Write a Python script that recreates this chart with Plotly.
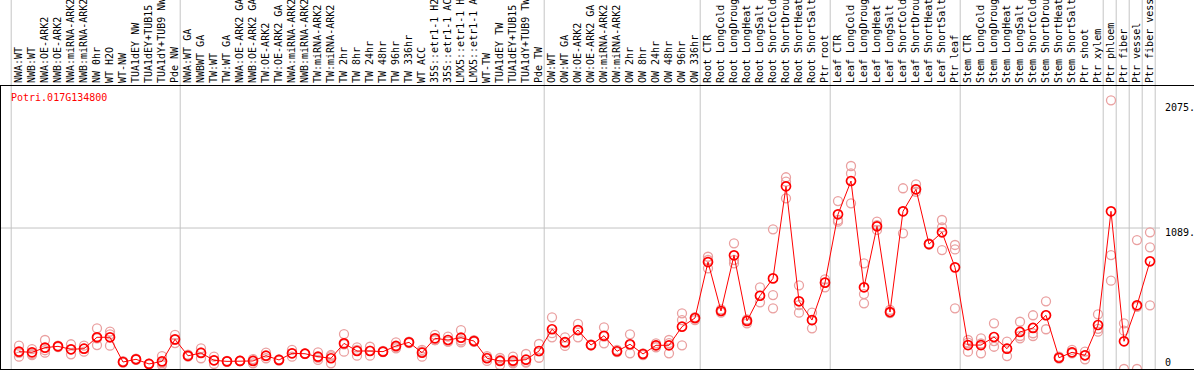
import plotly.graph_objects as go

gene = "Potri.017G134800"

labels = [
    "NWA:WT", "NWB:WT", "NWA:OE-ARK2", "NWB:OE-ARK2", "NWA:miRNA-ARK2", "NWB:miRNA-ARK2",
    "NW 0hr", "WT H2O", "WT-NW", "TUA1dEY NW", "TUA1dEY+TUB15 NW", "TUA1dY+TUB9 NW", "Pde NW",
    "NWA:WT GA", "NWBWT GA", "TW:WT", "TW:WT GA", "NWA:OE-ARK2 GA", "NWB:OE-ARK2 GA",
    "TW:OE-ARK2", "TW:OE-ARK2 GA", "NWA:miRNA-ARK2", "NWB:miRNA-ARK2", "TW:miRNA-ARK2",
    "TW:miRNA-ARK2", "TW 2hr", "TW 8hr", "TW 24hr", "TW 48hr", "TW 96hr", "TW 336hr", "WT ACC",
    "35S::etr1-1 H2O", "35S::etr1-1 ACC", "LMX5::etr1-1 H2O", "LMX5::etr1-1 ACC", "WT-TW",
    "TUA1dEY TW", "TUA1dEY+TUB15 TW", "TUA1dY+TUB9 TW", "Pde TW",
    "OW:WT", "OW:WT GA", "OW:OE-ARK2", "OW:OE-ARK2 GA", "OW:miRNA-ARK2", "OW:miRNA-ARK2",
    "OW 2hr", "OW 8hr", "OW 24hr", "OW 48hr", "OW 96hr", "OW 336hr",
    "Root CTR", "Root LongCold", "Root LongDrought", "Root LongHeat", "Root LongSalt",
    "Root ShortCold", "Root ShortDrought", "Root ShortHeat", "Root ShortSalt", "Ptr root",
    "Leaf CTR", "Leaf LongCold", "Leaf LongDrought", "Leaf LongHeat", "Leaf LongSalt",
    "Leaf ShortCold", "Leaf ShortDrought", "Leaf ShortHeat", "Leaf ShortSalt", "Ptr leaf",
    "Stem CTR", "Stem LongCold", "Stem LongDrought", "Stem LongHeat", "Stem LongSalt",
    "Stem ShortCold", "Stem ShortDrought", "Stem ShortHeat", "Stem ShortSalt", "Ptr shoot",
    "Ptr xylem", "Ptr phloem", "Ptr fiber", "Ptr vessel", "Ptr fiber vessel",
]

means = [
    134, 129, 165, 175, 152, 157, 245, 245, 54, 75, 39, 59, 229,
    102, 124, 67, 59, 62, 62, 103, 70, 121, 118, 95, 83, 198, 139, 139, 134, 178, 206, 126,
    237, 224, 242, 216, 83, 62, 64, 72, 139,
    307, 208, 301, 185, 257, 137, 191, 116, 183, 183, 327, 394,
    826, 448, 878, 371, 566, 700, 1411, 523, 378, 667,
    1195, 1452, 631, 1102, 440, 1218, 1388, 965, 1056, 785,
    185, 185, 247, 157, 286, 317, 415, 87, 129, 106,
    340, 1218, 214, 492, 832,
]

rep_a = [
    180, 154, 224, 180, 191, 180, 314, 288, 60, 80, 42, 100, 263,
    110, 160, 95, 62, 64, 77, 126, 75, 147, 120, 129, 108, 270, 167, 172, 140, 206, 212, 147,
    263, 250, 301, 222, 100, 85, 95, 116, 193,
    399, 245, 348, 190, 322, 147, 268, 120, 198, 224, 430, 400,
    867, 460, 971, 383, 631, 1079, 1481, 646, 435, 693,
    1297, 1568, 816, 1138, 456, 1396, 1426, 970, 1151, 958,
    224, 237, 353, 211, 365, 415, 523, 95, 147, 134,
    422, 2075, 353, 996, 1056,
]

rep_b = [
    125, 116, 145, 175, 152, 157, 236, 268, 52, 75, 39, 46, 225,
    105, 129, 67, 58, 62, 65, 100, 70, 121, 118, 86, 97, 190, 147, 142, 132, 170, 206, 136,
    224, 211, 220, 216, 87, 70, 54, 55, 137,
    277, 200, 300, 185, 250, 137, 185, 116, 183, 200, 378, 390,
    842, 448, 842, 378, 566, 571, 1447, 494, 378, 667,
    1151, 1511, 579, 1112, 435, 1218, 1388, 965, 1094, 924,
    203, 197, 216, 157, 255, 276, 415, 87, 129, 106,
    310, 880, 296, 480, 940,
]

rep_c = [
    95, 108, 126, 170, 113, 134, 185, 180, 50, 70, 36, 31, 200,
    95, 83, 39, 57, 60, 44, 83, 65, 95, 116, 70, 44, 134, 103, 103, 130, 160, 200, 95,
    224, 211, 206, 210, 62, 31, 44, 49, 87,
    245, 178, 245, 182, 198, 130, 121, 108, 168, 121, 183, 378,
    778, 435, 816, 353, 515, 469, 1318, 435, 314, 631,
    1138, 1280, 507, 1074, 432, 1048, 1369, 960, 919, 469,
    134, 121, 172, 100, 237, 255, 307, 80, 120, 75,
    288, 682, 0, 0, 492,
]

right_ticks = [2075, 1089, 0]
right_text = ["2075.", "1089.", "0"]

# separators: after these category indices
separators_after = [-1, 12, 40, 52, 62, 72, 83, 84, 85, 86, 87]

FONT = "DejaVu Sans Mono"
RED = "#FF0000"
PINK = "#EAA0A0"
GRID = "#C4C4C4"

xs = list(range(len(labels)))

fig = go.Figure()
for reps in (rep_a, rep_b, rep_c):
    fig.add_trace(go.Scatter(
        x=xs, y=reps, mode="markers",
        marker=dict(symbol="circle-open", size=9, color=PINK, line=dict(width=1.3, color=PINK)),
        hoverinfo="skip", showlegend=False,
    ))
fig.add_trace(go.Scatter(
    x=xs, y=means, mode="lines+markers",
    line=dict(color=RED, width=1),
    marker=dict(symbol="circle-open", size=9, color=RED, line=dict(width=1.7, color=RED)),
    showlegend=False,
))

W, H = 1194, 370
TOP, BOT = 86, 1
x0_px, dx_px = 19, 13
xr = [-x0_px / dx_px, (W - x0_px) / dx_px]

shapes = []
for k in separators_after:
    xv = k + 0.4
    shapes.append(dict(type="line", xref="x", yref="paper", x0=xv, x1=xv, y0=0, y1=1.5,
                       line=dict(color=GRID, width=1), layer="below"))
# horizontal grid at 1089
shapes.append(dict(type="line", xref="paper", yref="y", x0=0, x1=1160 / W, y0=right_ticks[1], y1=right_ticks[1],
                   line=dict(color=GRID, width=1), layer="below"))
# left border
shapes.append(dict(type="line", xref="paper", yref="paper", x0=0.5 / W, x1=0.5 / W, y0=0, y1=1,
                   line=dict(color="black", width=1)))

annotations = [
    dict(text=gene, xref="paper", yref="paper", x=9 / W, y=1 - (97 - TOP) / (H - TOP - BOT),
         xanchor="left", yanchor="middle", showarrow=False,
         font=dict(family=FONT, size=10, color=RED)),
]
shifts = [-7, -4.5, 7]
for v, t, s in zip(right_ticks, right_text, shifts):
    annotations.append(dict(text=t, xref="paper", yref="y", x=1163 / W, y=v, xanchor="left",
                            yanchor="middle", yshift=s, showarrow=False,
                            font=dict(family=FONT, size=10, color="black")))

fig.update_layout(
    width=W, height=H,
    margin=dict(l=0, r=0, t=TOP, b=BOT, pad=0),
    paper_bgcolor="white", plot_bgcolor="white",
    shapes=shapes, annotations=annotations,
    hovermode=False,
    xaxis=dict(
        side="top", range=xr, tickmode="array", tickvals=xs, ticktext=labels,
        tickangle=-90, ticks="", showgrid=False, zeroline=False,
        showline=True, linecolor="black", linewidth=1, mirror=True,
        tickfont=dict(family=FONT, size=10, color="black"), automargin=False,
    ),
    yaxis=dict(
        range=[0, 2186], showticklabels=False, showgrid=False, zeroline=False,
        showline=False, ticks="", automargin=False,
    ),
)

fig.write_html(
    "out.html",
    config={"displayModeBar": False},
    post_script="document.body.style.margin='0px';document.body.style.overflow='hidden';",
)
